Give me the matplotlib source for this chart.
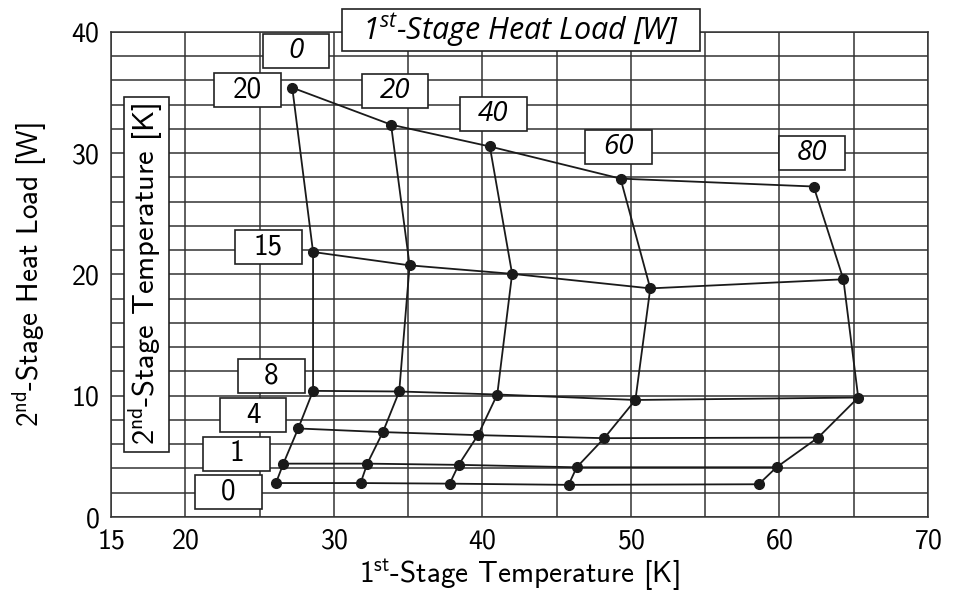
import numpy as np
import matplotlib
matplotlib.use("Agg")
import matplotlib.pyplot as plt
from matplotlib.patches import Rectangle

plt.rcParams["font.family"] = ["cmss10", "DejaVu Sans"]
plt.rcParams["mathtext.fontset"] = "custom"
plt.rcParams["mathtext.rm"] = "cmss10"
plt.rcParams["mathtext.it"] = "Open Sans:italic"
plt.rcParams["axes.formatter.use_mathtext"] = True

# 1st-stage heat load (columns) and 2nd-stage temperature (rows)
heat_load_1st = [0, 20, 40, 60, 80]
temp_2nd = [20, 15, 8, 4, 1, 0]

# 1st-stage temperature [K], one row per 2nd-stage temperature
t_1st = np.array([
    [27.2, 33.85, 40.5, 49.3, 62.3],
    [28.6, 35.1, 42.0, 51.3, 64.3],
    [28.6, 34.4, 41.0, 50.3, 65.3],
    [27.6, 33.3, 39.7, 48.2, 62.6],
    [26.6, 32.25, 38.4, 46.35, 59.8],
    [26.1, 31.8, 37.8, 45.8, 58.6],
])

# 2nd-stage heat load [W]
q_2nd = np.array([
    [35.4, 32.35, 30.55, 27.9, 27.25],
    [21.85, 20.75, 20.05, 18.85, 19.6],
    [10.4, 10.35, 10.1, 9.65, 9.85],
    [7.3, 7.0, 6.75, 6.5, 6.55],
    [4.4, 4.4, 4.3, 4.1, 4.1],
    [2.8, 2.8, 2.75, 2.65, 2.7],
])

x_ticks = [15, 20, 30, 40, 50, 60, 70]
y_ticks = [0, 10, 20, 30, 40]

fig = plt.figure(figsize=(9.63, 5.97), dpi=100)
ax = fig.add_axes([0.1153, 0.134, 0.8484, 0.8126])

ax.set_xlim(15, 70)
ax.set_ylim(0, 40)
ax.set_xticks(x_ticks)
ax.set_xticks(np.arange(15, 71, 5), minor=True)
ax.set_yticks(y_ticks)
ax.set_yticks(np.arange(0, 41, 2), minor=True)
ax.tick_params(which="both", length=0, labelsize=20, pad=8)
ax.grid(True, which="both", color="#333333", lw=1.1)
ax.set_axisbelow(True)
for s in ax.spines.values():
    s.set_color("#333333")
    s.set_linewidth(1.1)

ax.set_xlabel(r"1$^{\mathrm{st}}$-Stage Temperature [K]", fontsize=21, labelpad=3)
ax.set_ylabel(r"2$^{\mathrm{nd}}$-Stage Heat Load [W]", fontsize=21, labelpad=16)

# lines of constant 2nd-stage temperature
for i in range(len(temp_2nd)):
    ax.plot(t_1st[i], q_2nd[i], color="#1a1a1a", lw=1.3, zorder=3)
# lines of constant 1st-stage heat load
for j in range(len(heat_load_1st)):
    ax.plot(t_1st[:, j], q_2nd[:, j], color="#1a1a1a", lw=1.3, zorder=3)
ax.plot(t_1st.ravel(), q_2nd.ravel(), "o", color="#1a1a1a", ms=7, zorder=4)


def box_label(x, y, txt, w=4.5, h=2.8, italic=False):
    ax.add_patch(Rectangle((x - w / 2, y - h / 2), w, h, facecolor="white",
                           edgecolor="#222222", lw=1.2, zorder=5, clip_on=False))
    if italic:
        ax.text(x, y, txt, ha="center", va="center", fontsize=20, zorder=6,
                family="Open Sans", style="italic")
    else:
        ax.text(x, y, txt, ha="center", va="center", fontsize=21, zorder=6)


heat_pos = [(27.45, 38.4), (34.12, 35.14), (40.72, 33.21), (49.16, 30.49), (62.19, 30.04)]
for (x, y), q in zip(heat_pos, heat_load_1st):
    box_label(x, y, str(q), italic=True)

temp_pos = [(24.16, 35.19), (25.6, 22.26), (25.8, 11.6), (24.56, 8.4), (23.45, 5.23), (22.91, 2.1)]
for (x, y), t in zip(temp_pos, temp_2nd):
    box_label(x, y, str(t))

# header boxes
ax.add_patch(Rectangle((42.6 - 12.05, 40.16 - 1.73), 24.1, 3.46, facecolor="white",
                       edgecolor="#222222", lw=1.2, zorder=5, clip_on=False))
ax.text(42.6, 40.16, r"1$^{\mathit{st}}$-Stage Heat Load [W]", ha="center", va="center",
        fontsize=22, family="Open Sans", style="italic", zorder=6, clip_on=False)

ax.add_patch(Rectangle((17.39 - 1.515, 20.0 - 14.65), 3.03, 29.3, facecolor="white",
                       edgecolor="#222222", lw=1.2, zorder=5))
ax.text(17.39, 20.0, r"2$^{\mathrm{nd}}$-Stage Temperature [K]", ha="center", va="center",
        rotation=90, fontsize=22, zorder=6)

fig.savefig("out.png", dpi=100)
